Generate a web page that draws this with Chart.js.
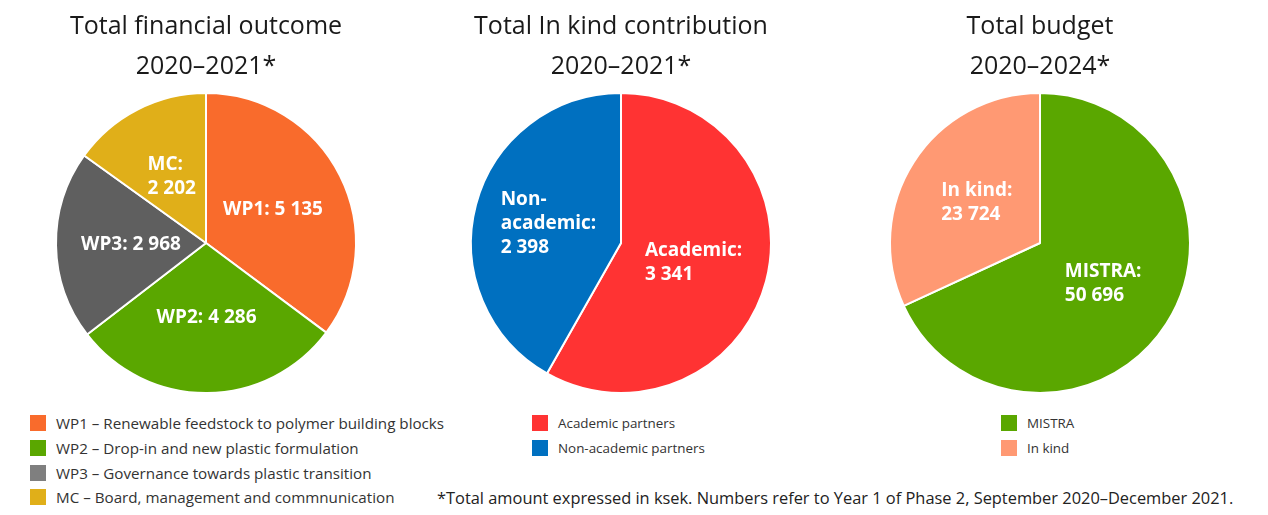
<!DOCTYPE html>
<html>
<head>
<meta charset="utf-8">
<script src="https://cdn.jsdelivr.net/npm/chart.js@4"></script>
<style>
  html, body { margin: 0; padding: 0; background: #fff; width: 1268px; height: 515px; overflow: hidden; }
  .box { position: absolute; top: 0; width: 400px; height: 400px; }
  .legend { position: absolute; font-family: "Open Sans", "Noto Sans", sans-serif; font-size: 15.2px; color: #333; }
  .legend div { height: 24.7px; display: flex; align-items: center; white-space: nowrap; }
  .legend span.sw { display: inline-block; width: 16px; height: 16px; margin-right: 10px; flex: none; }
  .narrow { font-size: 13.4px; }
  #note { position: absolute; left: 437px; top: 486px; font-family: "Open Sans", sans-serif; font-size: 16.4px; color: #222; white-space: nowrap; }
</style>
</head>
<body>
<div class="box" id="b1" style="left:6px"><canvas id="c1"></canvas></div>
<div class="box" id="b2" style="left:421px"><canvas id="c2"></canvas></div>
<div class="box" id="b3" style="left:840px"><canvas id="c3"></canvas></div>
<div class="legend" id="l1" style="left:30px; top:411px"></div>
<div class="legend narrow" id="l2" style="left:532px; top:411px"></div>
<div class="legend narrow" id="l3" style="left:1001px; top:411px"></div>
<div id="note">*Total amount expressed in ksek. Numbers refer to Year 1 of Phase 2, September 2020–December 2021.</div>
<script>
// ---- data ----
const foTitle = ['Total financial outcome', '2020–2021*'];
const foNames = ['WP1', 'WP2', 'WP3', 'MC'];
const foValues = [5135, 4286, 2968, 2202];
const foWrap = [false, false, false, true];
const foLegend = ['WP1 – Renewable feedstock to polymer building blocks', 'WP2 – Drop-in and new plastic formulation', 'WP3 – Governance towards plastic transition', 'MC – Board, management and commnunication'];

const ikTitle = ['Total In kind contribution', '2020–2021*'];
const ikNames = ['Academic', 'Non-\nacademic'];
const ikValues = [3341, 2398];
const ikWrap = [true, true];
const ikLegend = ['Academic partners', 'Non-academic partners'];

const tbTitle = ['Total budget', '2020–2024*'];
const tbNames = ['MISTRA', 'In kind'];
const tbValues = [50696, 23724];
const tbWrap = [true, true];
const tbLegend = ['MISTRA', 'In kind'];

// ---- styles ----
const foColors = ['#F96B2C', '#5AA700', '#5F5F5F', '#E0AF19'];
const foLegendColors = ['#F96B2C', '#5AA700', '#7F7F7F', '#E0AF19'];
const ikColors = ['#FF3333', '#0070C0'];
const tbColors = ['#5AA700', '#FF9973'];

const fmt = v => String(v).replace(/\B(?=(\d{3})+(?!\d))/g, ' ');

const sliceLabels = {
  id: 'sliceLabels',
  afterDatasetsDraw(chart, args, opts) {
    const ctx = chart.ctx;
    const meta = chart.getDatasetMeta(0);
    const ds = chart.data.datasets[0];
    ctx.save();
    ctx.fillStyle = '#fff';
    ctx.font = 'bold 19px "Open Sans", sans-serif';
    ctx.textBaseline = 'middle';
    ctx.textAlign = 'left';
    const lh = 24;
    meta.data.forEach((arc, i) => {
      const name = opts.names[i];
      const txt = name + ':' + (opts.wrap[i] ? '\n' : ' ') + fmt(ds.data[i]);
      const lines = txt.split('\n');
      const p = arc.tooltipPosition();
      const w = Math.max(...lines.map(l => ctx.measureText(l).width));
      const y0 = p.y - (lines.length - 1) * lh / 2;
      lines.forEach((l, k) => ctx.fillText(l, p.x - w / 2, y0 + k * lh));
    });
    ctx.restore();
  }
};

function makePie(id, title, labels, values, colors, names, wrap) {
  return new Chart(document.getElementById(id), {
    type: 'pie',
    data: { labels: labels, datasets: [{ data: values, backgroundColor: colors, borderColor: '#fff', borderWidth: 2 }] },
    options: {
      responsive: true, maintainAspectRatio: false, animation: false,
      layout: { padding: { bottom: 6 } },
      plugins: {
        legend: { display: false },
        tooltip: { enabled: false },
        title: { display: true, text: title, color: '#1a1a1a', font: { family: '"Open Sans", sans-serif', size: 25, weight: 'normal', lineHeight: 1.6 }, padding: { top: 7, bottom: 5 } },
        sliceLabels: { names: names, wrap: wrap }
      }
    },
    plugins: [sliceLabels]
  });
}

makePie('c1', foTitle, foLegend, foValues, foColors, foNames, foWrap);
makePie('c2', ikTitle, ikLegend, ikValues, ikColors, ikNames, ikWrap);
makePie('c3', tbTitle, tbLegend, tbValues, tbColors, tbNames, tbWrap);

function legend(id, texts, colors) {
  document.getElementById(id).innerHTML = texts.map((t, i) =>
    '<div><span class="sw" style="background:' + colors[i] + '"></span>' + t + '</div>').join('');
}
legend('l1', foLegend, foLegendColors);
legend('l2', ikLegend, ikColors);
legend('l3', tbLegend, tbColors);
</script>
</body>
</html>
